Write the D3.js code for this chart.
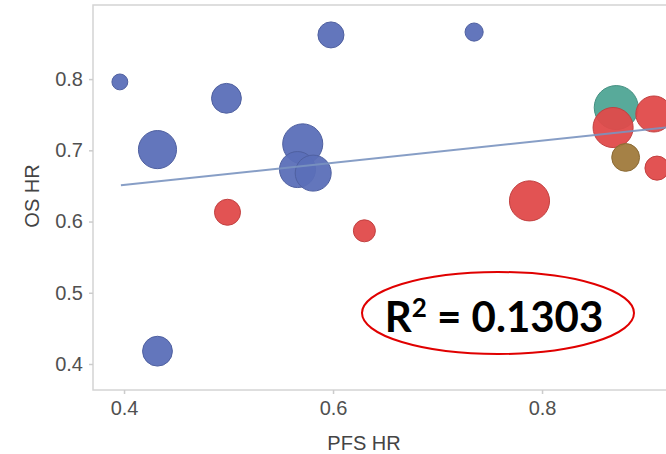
<!DOCTYPE html>
<html>
<head>
<meta charset="utf-8">
<script src="https://cdn.jsdelivr.net/npm/d3@7"></script>
<style>
  body { margin: 0; background: #fff; }
  .axis text { font-family: "Liberation Sans", Arial, sans-serif; font-size: 20px; fill: #505050; }
  .axis path { display: none; }
  .axis line { stroke: #ccc; stroke-width: 1.5; }
  .title { font-family: "Liberation Sans", Arial, sans-serif; font-size: 20px; fill: #444; }
</style>
</head>
<body>
<svg id="chart" width="666" height="454"></svg>
<script>
// study-level hazard ratios
const pfsHR = [0.396, 0.598, 0.735, 0.498, 0.432, 0.571, 0.566, 0.581, 0.432,
               0.871, 0.499, 0.630, 0.788, 0.868, 0.907, 0.910, 0.880];
const osHR = [0.796, 0.862, 0.866, 0.773, 0.701, 0.709, 0.673, 0.668, 0.418,
              0.760, 0.613, 0.587, 0.629, 0.732, 0.751, 0.675, 0.690];
const weight = [13, 35, 17, 46, 75, 83, 67, 67, 46,
                100, 35, 25, 83, 83, 67, 30, 40];
const group = ['A', 'A', 'A', 'A', 'A', 'A', 'A', 'A', 'A',
               'C', 'B', 'B', 'B', 'B', 'B', 'B', 'D'];
const groups = ['A', 'B', 'C', 'D'];
const groupColors = ['#5b6fb8', '#e04a4a', '#4fa595', '#a07a3c'];

// fitted line endpoints
const fitX = [0.397, 0.919];
const fitY = [0.651, 0.732];

const xTicks = [0.4, 0.6, 0.8];
const yTicks = [0.4, 0.5, 0.6, 0.7, 0.8];
const rSquared = '0.1303';

const svg = d3.select('#chart');
const plot = { left: 93, top: 5, bottom: 390, right: 720 };

const x = d3.scaleLinear().domain([0.3703, 0.9703]).range([plot.left, plot.right]);
const y = d3.scaleLinear().domain([0.3635, 0.904]).range([plot.bottom, plot.top]);
const r = d3.scaleSqrt().domain([0, 100]).range([0, 22]);
const color = d3.scaleOrdinal().domain(groups).range(groupColors);

// panel border
svg.append('rect')
  .attr('x', plot.left).attr('y', plot.top)
  .attr('width', plot.right - plot.left).attr('height', plot.bottom - plot.top)
  .attr('fill', 'none').attr('stroke', '#d4d4d4').attr('stroke-width', 1.5);

svg.append('g').attr('class', 'axis')
  .attr('transform', `translate(0,${plot.bottom})`)
  .call(d3.axisBottom(x).tickValues(xTicks).tickFormat(d3.format('.1f')).tickSize(4).tickPadding(7));

svg.append('g').attr('class', 'axis')
  .attr('transform', `translate(${plot.left},0)`)
  .call(d3.axisLeft(y).tickValues(yTicks).tickFormat(d3.format('.1f')).tickSize(4).tickPadding(6));

svg.append('text').attr('class', 'title')
  .attr('x', 364).attr('y', 450).attr('text-anchor', 'middle')
  .text('PFS HR');

svg.append('text').attr('class', 'title')
  .attr('transform', 'translate(39,196) rotate(-90)')
  .attr('text-anchor', 'middle')
  .text('OS HR');

const points = pfsHR.map((d, i) => ({ x: d, y: osHR[i], w: weight[i], g: group[i] }));

svg.append('g').selectAll('circle')
  .data(points)
  .join('circle')
  .attr('cx', d => x(d.x))
  .attr('cy', d => y(d.y))
  .attr('r', d => r(d.w))
  .attr('fill', d => color(d.g))
  .attr('fill-opacity', 0.95)
  .attr('stroke', d => d3.color(color(d.g)).darker(0.4))
  .attr('stroke-width', 1);

const line = d3.line().x(d => x(d[0])).y(d => y(d[1]));
svg.append('path')
  .datum(fitX.map((d, i) => [d, fitY[i]]))
  .attr('d', line)
  .attr('fill', 'none')
  .attr('stroke', '#7a93c0')
  .attr('stroke-opacity', 0.9)
  .attr('stroke-width', 2);

// R squared callout
svg.append('ellipse')
  .attr('cx', 498).attr('cy', 313).attr('rx', 136).attr('ry', 41)
  .attr('fill', 'none').attr('stroke', '#e00000').attr('stroke-width', 2);

const label = svg.append('text')
  .attr('x', 494).attr('y', 332)
  .attr('text-anchor', 'middle')
  .attr('font-family', 'Lato, "Open Sans", sans-serif')
  .attr('font-weight', 'bold')
  .attr('font-size', 42)
  .attr('fill', '#000');
label.append('tspan').text('R');
label.append('tspan').attr('font-size', 26).attr('dy', -15).text('2');
label.append('tspan').attr('dy', 15).text(' = ' + rSquared);
</script>
</body>
</html>
